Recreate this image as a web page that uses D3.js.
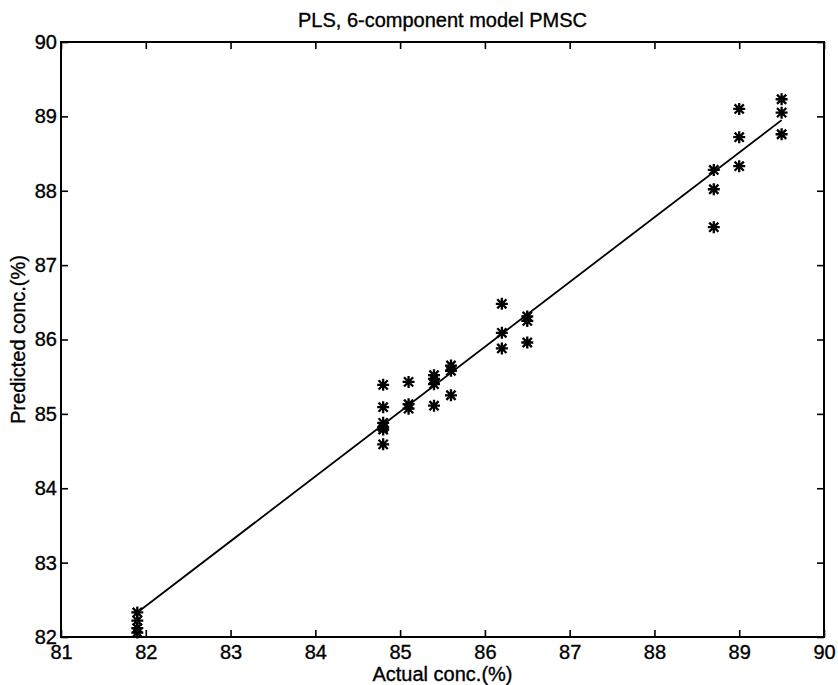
<!DOCTYPE html>
<html>
<head>
<meta charset="utf-8">
<script src="https://cdn.jsdelivr.net/npm/d3@7"></script>
<style>
    body { margin: 0; background: #fff; }
    svg { display: block; font-family: "Liberation Sans", Arial, sans-serif; }
    text { stroke: #000; stroke-width: 0.35px; }
</style>
</head>
<body>
<div id="chart-container"></div>
<script>
const chartTitle = "PLS, 6-component model PMSC";
const xLabel = "Actual conc.(%)";
const yLabel = "Predicted conc.(%)";

const xTicks = [81, 82, 83, 84, 85, 86, 87, 88, 89, 90];
const yTicks = [82, 83, 84, 85, 86, 87, 88, 89, 90];

const actualConc = [
    81.9, 81.9, 81.9, 81.9,
    84.8, 84.8, 84.8, 84.8, 84.8, 84.8,
    85.1, 85.1, 85.1,
    85.4, 85.4, 85.4, 85.4,
    85.6, 85.6, 85.6,
    86.2, 86.2, 86.2,
    86.5, 86.5, 86.5,
    88.7, 88.7, 88.7,
    89.0, 89.0, 89.0,
    89.5, 89.5, 89.5
];
const predictedConc = [
    82.33, 82.22, 82.12, 82.06,
    85.39, 85.09, 84.88, 84.82, 84.79, 84.59,
    85.43, 85.13, 85.07,
    85.52, 85.47, 85.40, 85.11,
    85.65, 85.58, 85.25,
    86.48, 86.09, 85.88,
    86.31, 86.25, 85.96,
    88.28, 88.02, 87.51,
    89.10, 88.72, 88.33,
    89.23, 89.05, 88.76
];

// fitted line end points
const fitX = [81.9, 89.5];
const fitY = [82.33, 88.95];

const totalWidth = 838, totalHeight = 685;
const margin = { top: 42, right: 14, bottom: 48, left: 61 };
const width = totalWidth - margin.left - margin.right;
const height = totalHeight - margin.top - margin.bottom;

const svg = d3.select("#chart-container").append("svg")
    .attr("width", totalWidth)
    .attr("height", totalHeight);

const g = svg.append("g")
    .attr("transform", `translate(${margin.left},${margin.top})`);

const x = d3.scaleLinear().domain([81, 90]).range([0, width]);
const y = d3.scaleLinear().domain([82, 90]).range([height, 0]);

const tickLen = 7;
const fontSize = 20;

// frame
g.append("rect")
    .attr("width", width)
    .attr("height", height)
    .attr("fill", "none")
    .attr("stroke", "#000")
    .attr("stroke-width", 2);

// ticks point inward on all four sides
const xAxis = g.append("g")
    .attr("transform", `translate(0,${height})`)
    .call(d3.axisBottom(x).tickValues(xTicks).tickSize(-tickLen).tickPadding(8).tickFormat(d3.format("d")));
const xAxisTop = g.append("g")
    .call(d3.axisTop(x).tickValues(xTicks).tickSize(-tickLen).tickFormat(""));
const yAxis = g.append("g")
    .call(d3.axisLeft(y).tickValues(yTicks).tickSize(-tickLen).tickPadding(4).tickFormat(d3.format("d")));
const yAxisRight = g.append("g")
    .attr("transform", `translate(${width},0)`)
    .call(d3.axisRight(y).tickValues(yTicks).tickSize(-tickLen).tickFormat(""));

[xAxis, xAxisTop, yAxis, yAxisRight].forEach(a => {
    a.select(".domain").remove();
    a.selectAll(".tick line").attr("stroke", "#000").attr("stroke-width", 1.6);
    a.selectAll("text")
        .attr("fill", "#000")
        .style("font-size", fontSize + "px")
        .style("font-family", '"Liberation Sans", Arial, sans-serif');
});

// fitted line
g.append("line")
    .attr("x1", x(fitX[0]))
    .attr("y1", y(fitY[0]))
    .attr("x2", x(fitX[1]))
    .attr("y2", y(fitY[1]))
    .attr("stroke", "#000")
    .attr("stroke-width", 1.8);

// asterisk markers (plus + cross)
function starPath(cx, cy) {
    const p = d3.path();
    const r = 6, d = 4.6;
    p.moveTo(cx - r, cy); p.lineTo(cx + r, cy);
    p.moveTo(cx, cy - r); p.lineTo(cx, cy + r);
    p.moveTo(cx - d, cy - d); p.lineTo(cx + d, cy + d);
    p.moveTo(cx - d, cy + d); p.lineTo(cx + d, cy - d);
    return p.toString();
}

g.selectAll("path.star")
    .data(actualConc.map((v, i) => ({ actual: v, predicted: predictedConc[i] })))
    .enter()
    .append("path")
    .attr("class", "star")
    .attr("d", d => starPath(x(d.actual), y(d.predicted)))
    .attr("fill", "none")
    .attr("stroke", "#000")
    .attr("stroke-width", 2.3);

// title and labels
svg.append("text")
    .attr("x", margin.left + width / 2)
    .attr("y", 27)
    .attr("text-anchor", "middle")
    .style("font-size", fontSize + "px")
    .text(chartTitle);

svg.append("text")
    .attr("x", margin.left + width / 2)
    .attr("y", 681)
    .attr("text-anchor", "middle")
    .style("font-size", fontSize + "px")
    .text(xLabel);

svg.append("text")
    .attr("transform", `translate(25,${margin.top + height / 2}) rotate(-90)`)
    .attr("text-anchor", "middle")
    .style("font-size", fontSize + "px")
    .text(yLabel);
</script>
</body>
</html>
